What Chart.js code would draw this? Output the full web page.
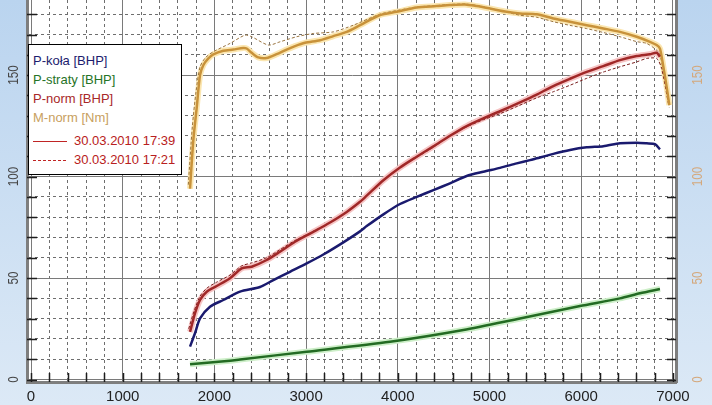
<!DOCTYPE html>
<html>
<head>
<meta charset="utf-8">
<script src="https://cdn.jsdelivr.net/npm/chart.js@4.4.0/dist/chart.umd.min.js"></script>
<style>
body { margin: 0; }
#wrap { position: relative; width: 712px; height: 405px; overflow: hidden;
        background: linear-gradient(to bottom, #bad4ef, #dce9f6); }
#legenda { position: absolute; left: 28px; top: 44px; width: 154px; height: 131px; box-sizing: border-box;
           background: #fff; border: 1px solid #000; padding: 6px 0 0 4px;
           font: 13px "Liberation Sans", Arial, sans-serif; line-height: 19px; }
#legenda .daty { margin-top: 4px; color: #b82020; }
#legenda .probka { display: inline-block; width: 34px; height: 1px; margin-right: 7px; vertical-align: middle;
                   background: #c02424; }
#legenda .probka.kreski { background: repeating-linear-gradient(to right, #c02424 0 3px, transparent 3px 5px); }
</style>
</head>
<body>
<div id="wrap">
  <canvas id="wykres" width="712" height="405"></canvas>
  <div id="legenda">
    <div style="color:#1c1c6e">P-koła [BHP]</div>
    <div style="color:#267326">P-straty [BHP]</div>
    <div style="color:#a82828">P-norm [BHP]</div>
    <div style="color:#c8a060">M-norm [Nm]</div>
    <div class="daty">
      <div><span class="probka"></span>30.03.2010 17:39</div>
      <div><span class="probka kreski"></span>30.03.2010 17:21</div>
    </div>
  </div>
</div>
<script>
// P-koła [BHP], pomiar 17:39
let obrKola = [1734, 1788, 1843, 1952, 2097, 2279, 2497, 2643, 2824, 3006, 3188, 3406, 3588, 3661, 3843, 4024, 4206, 4388, 4569, 4751, 4933, 5115, 5297, 5442, 5515, 5696, 5878, 6060, 6241, 6423, 6605, 6714, 6805, 6859];
let mocKola = [16.2, 22.8, 30.1, 35.9, 39.2, 43.3, 45.6, 49, 53.1, 57.2, 61.6, 67.6, 73, 75.6, 81.4, 86.5, 90, 93.3, 96.7, 100.3, 102.4, 104.3, 106.5, 108.1, 109, 111.2, 113.1, 114.4, 115, 116.4, 116.7, 116.4, 116, 113.4];

// P-straty [BHP]
let obrStraty = [1734, 2170, 2279, 3006, 3915, 4715, 5333, 5987, 6423, 6641, 6859];
let mocStraty = [7.6, 9.3, 9.9, 13.7, 18.6, 24.4, 30.1, 36.2, 40, 42.5, 44.6];

// P-norm [BHP], 17:39 (linia ciagla) i 17:21 (kreski)
let obrNorm = [1734, 1788, 1843, 1916, 2025, 2170, 2297, 2406, 2570, 2715, 2879, 3079, 3261, 3443, 3588, 3661, 3843, 4024, 4206, 4388, 4569, 4751, 4933, 5115, 5297, 5442, 5515, 5696, 5878, 6060, 6241, 6423, 6605, 6750, 6823, 6859];
let mocNorm = [23.5, 32.6, 39.2, 43.3, 46.1, 49.9, 54.8, 55.6, 58.9, 63, 67.9, 72.8, 77.4, 82.6, 87.6, 90.6, 98.2, 104.5, 109.8, 114.9, 120.1, 124.9, 128.7, 132.2, 135.8, 138.8, 140.4, 144.6, 148.2, 151.6, 154.4, 157.4, 159.4, 160.3, 161, 159];
let obrNorm2 = [1720, 1780, 1843, 1916, 2025, 2170, 2297, 2406, 2570, 2715, 2879, 3079, 3261, 3443, 3588, 3843, 4024, 4206, 4388, 4569, 4751, 4933, 5115, 5297, 5515, 5696, 5878, 6060, 6241, 6423, 6605, 6714, 6823, 6877, 6951];
let mocNorm2 = [25, 34, 41, 45, 48, 51.5, 56, 57.5, 60, 64, 68.5, 73, 77.4, 82.6, 87.6, 98.2, 104.5, 109.5, 114.5, 120, 124.5, 128, 131, 134.5, 138.8, 141.8, 145, 148.4, 151.5, 154.1, 156.5, 158.2, 158.2, 153.3, 136];

// M-norm [Nm], 17:39 i 17:21
let obrMoment = [1734, 1770, 1807, 1843, 1880, 1934, 1988, 2097, 2206, 2315, 2352, 2406, 2479, 2570, 2679, 2788, 2879, 2988, 3152, 3297, 3443, 3588, 3806, 3988, 4206, 4424, 4569, 4733, 4860, 5005, 5188, 5333, 5515, 5696, 5878, 6060, 6241, 6423, 6605, 6750, 6823, 6859, 6896, 6932, 6961];
let moment = [94, 118, 134, 150, 155, 158.2, 160.2, 162, 162.6, 163.4, 163.1, 161, 158.7, 158.4, 160.3, 162.6, 164.3, 165.9, 167.2, 169.2, 171.3, 174.6, 179.6, 181.2, 183.3, 184, 184.5, 184.8, 184, 182.8, 181.2, 180.4, 180, 177.9, 176.3, 174.6, 173, 171.3, 168.9, 166.4, 164.8, 163.1, 154.1, 144.2, 135.2];
let obrMoment2 = [1715, 1760, 1800, 1843, 1900, 1988, 2170, 2334, 2406, 2588, 2715, 2897, 3079, 3297, 3515, 3806, 3988, 4206, 4424, 4569, 4733, 4860, 5005, 5188, 5333, 5515, 5696, 5878, 6060, 6241, 6423, 6605, 6714, 6823, 6859, 6896, 6932, 6961];
let moment2 = [96, 125, 142, 154, 158.5, 161.5, 165.6, 169.7, 168.9, 164.8, 166.4, 168.9, 170.5, 171.3, 174.6, 180, 181.8, 183.5, 184.3, 184.8, 185, 184.3, 183, 181, 179.5, 178.5, 176.3, 174.5, 172.9, 171, 168.9, 166.5, 165.6, 162.3, 160, 152, 143, 134];

let etykietyY = [0, 50, 100, 150];

function punkty(xs, ys) {
    return xs.map((x, i) => ({ x: x, y: ys[i] }));
}

function linia(dane, kolor, grubosc, os, kolejnosc, kreski) {
    return {
        data: dane, borderColor: kolor, borderWidth: grubosc, yAxisID: os, order: kolejnosc,
        borderDash: kreski || [], pointRadius: 0, tension: 0.25, fill: false
    };
}

// białe pole wykresu
const tloPola = {
    id: 'tloPola',
    beforeDraw(chart) {
        let a = chart.chartArea;
        chart.ctx.save();
        chart.ctx.fillStyle = '#ffffff';
        chart.ctx.fillRect(a.left, a.top, a.right - a.left, a.bottom - a.top);
        chart.ctx.restore();
    }
};

// krotkie kreski podzialki wewnatrz pola
const kreskiPodzialki = {
    id: 'kreskiPodzialki',
    beforeDatasetsDraw(chart) {
        let ctx = chart.ctx, a = chart.chartArea;
        ctx.save();
        ctx.strokeStyle = '#1e1e1e';
        ctx.lineWidth = 1.5;
        ctx.beginPath();
        chart.scales.y.ticks.forEach(t => {
            let py = Math.round(chart.scales.y.getPixelForValue(t.value)) + 0.5;
            ctx.moveTo(a.left, py); ctx.lineTo(a.left + 10, py);
            ctx.moveTo(a.right - 9, py); ctx.lineTo(a.right, py);
        });
        chart.scales.x.ticks.forEach(t => {
            let px = Math.round(chart.scales.x.getPixelForValue(t.value)) + 0.5;
            ctx.moveTo(px, a.bottom - 9); ctx.lineTo(px, a.bottom);
        });
        ctx.stroke();
        ctx.restore();
    }
};

// pionowe etykiety osi Y (lewa: BHP, prawa: Nm)
const etykietyOsi = {
    id: 'etykietyOsi',
    afterDraw(chart) {
        let ctx = chart.ctx, a = chart.chartArea;
        const napis = (txt, x, y, kolor) => {
            ctx.save();
            ctx.translate(x, y);
            ctx.rotate(-Math.PI / 2);
            ctx.scale(0.78, 1);
            ctx.fillStyle = kolor;
            ctx.fillText(txt, 0, 0);
            ctx.restore();
        };
        ctx.save();
        ctx.font = '15px "Liberation Sans", Arial, sans-serif';
        ctx.textAlign = 'center';
        ctx.textBaseline = 'middle';
        etykietyY.forEach(v => {
            napis(String(v), a.left - 13, chart.scales.y.getPixelForValue(v), '#454545');
            napis(String(v), a.right + 22, chart.scales.y2.getPixelForValue(v), '#d4a87c');
        });
        ctx.restore();
    }
};

function siatka(glowna) {
    return {
        color: ctx => (ctx.tick && ctx.tick.value % glowna === 0) ? '#7a7a7a' : '#6e6e6e',
        lineWidth: 1,
        drawTicks: false
    };
}

function obramowanie(glowna) {
    return {
        display: true, color: '#7e7e7e', width: 3,
        dash: ctx => (ctx.tick && ctx.tick.value % glowna === 0) ? [] : [3, 3]
    };
}

function krokiY(scale) {
    let t = [];
    for (let v = 0; v <= 180; v += 10) t.push({ value: v });
    scale.ticks = t;
}

let ctx = document.getElementById('wykres').getContext('2d');
new Chart(ctx, {
    type: 'line',
    data: {
        datasets: [
            // poswiata pod liniami ciaglymi
            linia(punkty(obrStraty, mocStraty), '#cdefc8', 6, 'y', 10),
            linia(punkty(obrNorm, mocNorm), '#f6c4c4', 6, 'y', 10),
            linia(punkty(obrMoment, moment), '#fbe6b0', 6, 'y2', 10),
            // 17:21
            linia(punkty(obrNorm2, mocNorm2), '#7a1e1e', 1, 'y', 5, [3, 2]),
            linia(punkty(obrMoment2, moment2), '#9a7440', 1, 'y2', 5, [3, 2]),
            // 17:39
            linia(punkty(obrKola, mocKola), '#1a1a6e', 2.5, 'y', 0),
            linia(punkty(obrStraty, mocStraty), '#236b23', 2.5, 'y', 0),
            linia(punkty(obrNorm, mocNorm), '#a02828', 2.5, 'y', 0),
            linia(punkty(obrMoment, moment), '#c8923a', 2.5, 'y2', 0)
        ]
    },
    options: {
        responsive: false,
        animation: false,
        layout: { padding: 0 },
        plugins: { legend: { display: false }, tooltip: { enabled: false } },
        scales: {
            x: {
                type: 'linear', min: -44, max: 7034,
                afterBuildTicks: scale => {
                    let t = [];
                    for (let v = 0; v <= 7000; v += 200) t.push({ value: v });
                    scale.ticks = t;
                },
                afterFit: scale => { scale.height = 23; },
                grid: siatka(1000),
                border: obramowanie(1000),
                ticks: {
                    autoSkip: false, maxRotation: 0, minRotation: 0, padding: 6,
                    color: '#222', font: { family: '"Liberation Sans", Arial, sans-serif', size: 15 },
                    callback: v => v % 1000 === 0 ? v : ''
                }
            },
            y: {
                position: 'left', min: -1.2, max: 187,
                afterBuildTicks: krokiY,
                afterFit: scale => { scale.width = 27; },
                grid: siatka(50),
                border: obramowanie(50),
                ticks: { display: false }
            },
            y2: {
                position: 'right', min: -1.2, max: 187,
                afterBuildTicks: krokiY,
                afterFit: scale => { scale.width = 36; },
                grid: { display: false },
                border: { display: true, color: '#7e7e7e', width: 3 },
                ticks: { display: false }
            }
        }
    },
    plugins: [tloPola, kreskiPodzialki, etykietyOsi]
});
</script>
</body>
</html>
